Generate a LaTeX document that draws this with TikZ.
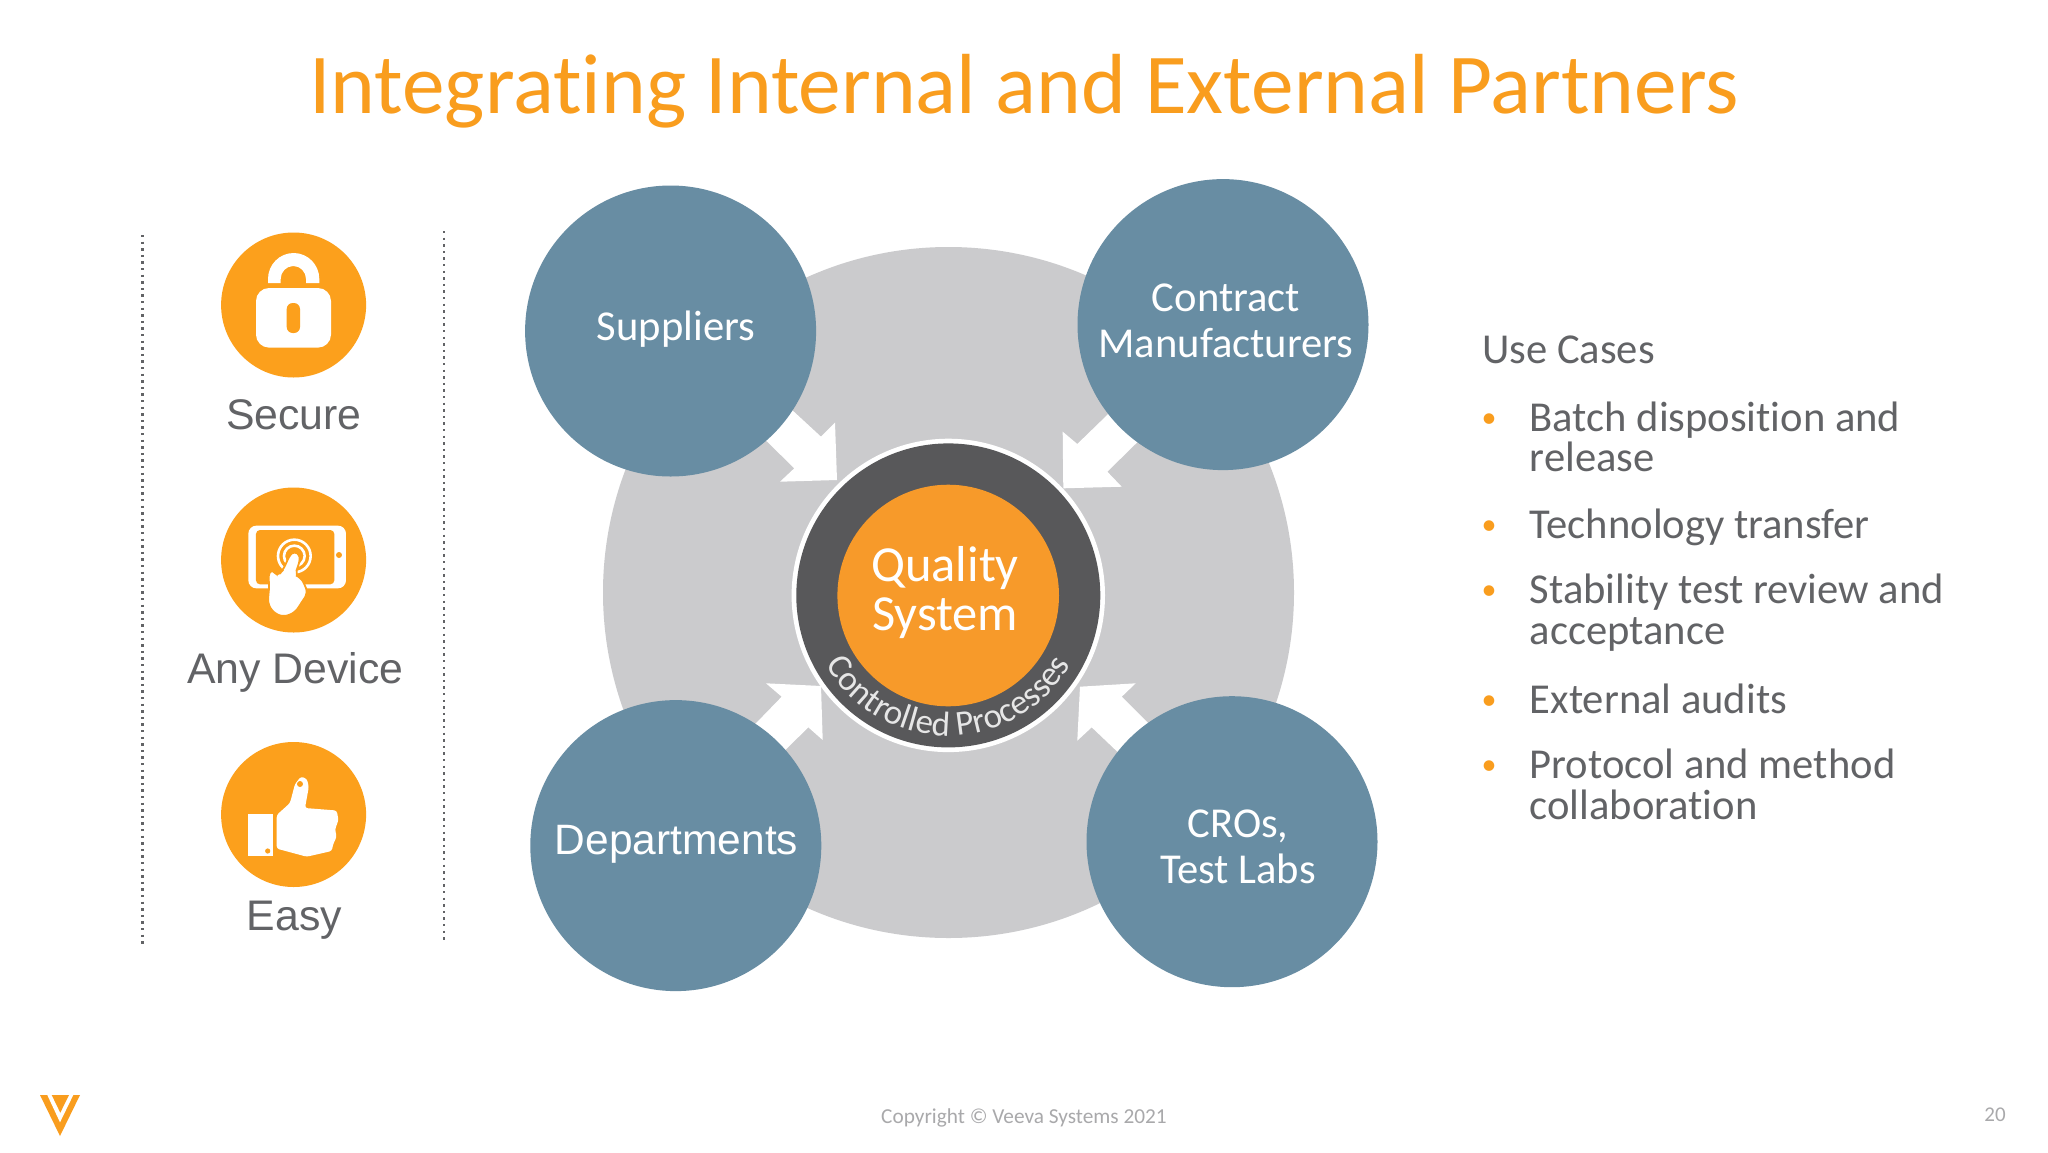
\documentclass[tikz,border=0pt]{standalone}
\usepackage{fontspec}
\usetikzlibrary{decorations.text}
\setmainfont{Carlito}[Ligatures=NoCommon]
\newfontfamily\arialf{Liberation Sans}
\definecolor{vorange}{HTML}{F99D1E}
\definecolor{iconorange}{HTML}{FCA01C}
\definecolor{coreorange}{HTML}{F79A2A}
\definecolor{vblue}{HTML}{688DA3}
\definecolor{vgray}{HTML}{CBCBCD}
\definecolor{vdark}{HTML}{58585A}
\definecolor{vtext}{HTML}{626366}
\definecolor{vfoot}{HTML}{A9A9AB}
\tikzset{
  disc/.style={circle,inner sep=0pt,minimum size=#1},
  partner/.style={disc=291pt,fill=vblue},
  badge/.style={disc=145pt,fill=iconorange},
  partnertext/.style={text=white,align=center,font=\fontsize{42.6}{46}\selectfont},
  badgetext/.style={text=vtext,font=\arialf\fontsize{42.8}{48}\selectfont},
  usecase/.style={anchor=base west,text=vtext,font=\fontsize{42.6}{40}\selectfont,inner sep=0pt},
  bulletmark/.style={anchor=base,text=vorange,font=\fontsize{30}{30}\selectfont,inner sep=0pt},
  sideline/.style={vtext,line width=2.4pt,dash pattern=on 2.4pt off 4.2pt},
  blockarrow/.style={fill=white,draw=none}
}
\begin{document}
\begin{tikzpicture}[x=1pt,y=-1pt]
\useasboundingbox (0,0) rectangle (2048,1152);
\fill[white] (0,0) rectangle (2048,1152);

% title
\node[text=vorange,font=\fontsize{85.3}{90}\selectfont,inner sep=0pt] (title) at (1024,91) {Integrating Internal and External Partners};

% dotted lines
\coordinate (la) at (142.4,235); \coordinate (lb) at (142.4,945);
\coordinate (ra) at (444,231);   \coordinate (rb) at (444,942);
\draw[sideline] (la) -- (lb);
\draw[sideline] (ra) -- (rb);

% left badges
\node[badge] (secure) at (293.6,305) {};
\node[badge] (device) at (293.6,560) {};
\node[badge] (easy)   at (293.6,814.5) {};
\node[badgetext] (securet) at (294,415) {Secure};
\node[badgetext] (devicet) at (295.5,672.5) {Any Device};
\node[badgetext] (easyt)   at (294.5,920.5) {Easy};

% lock icon
\fill[white,rounded corners=13pt] (256,288) rectangle (331,347.6);
\fill[iconorange,rounded corners=6pt] (286.7,303) rectangle (300,333);
\fill[white] (268,283) -- (268,279) arc[start angle=180,end angle=360,x radius=25.65,y radius=26] -- (319.3,283) -- (306,283) -- (306,279)
  arc[start angle=360,end angle=180,x radius=12.65,y radius=13] -- (280.7,283) -- cycle;

% device icon
\begin{scope}[shift={(205,470)},x=0.3333pt,y=-0.3333pt]
  \fill[white,rounded corners=8pt] (130,167) rectangle (423,355);
  \fill[iconorange,rounded corners=4pt] (153,180) rectangle (388,343);
  \fill[iconorange] (402,255) circle[radius=9];
  \draw[white,line width=2.6pt] (268,258) circle[radius=49];
  \draw[white,line width=2.6pt] (268,258) circle[radius=31];
  \fill[white,draw=iconorange,line width=1.8pt,rounded corners=5pt]
    (256,252) -- (268,243) -- (283,252) -- (286,268) -- (270,315) -- (287,322) -- (300,345) -- (308,370) -- (270,428)
    -- (235,441) -- (205,428) -- (188,400) -- (193,345) -- (189,312) -- (203,296) -- (216,320) -- (234,300) -- cycle;
\end{scope}

% thumbs-up icon
\fill[white] (248.3,814) rectangle (273.3,855.7);
\fill[iconorange] (267.7,851) circle[radius=2.6];
\fill[white,rounded corners=2.5pt] (276.7,815) -- (290,803) -- (295,784) -- (301,776.5) -- (307,779) -- (308.8,787) -- (305,808)
  -- (336.7,810.5) -- (338.5,820) -- (335,829.5) -- (336.7,836.7) -- (333.3,843.8) -- (331.7,851) -- (306.7,856.7) -- (276.7,848.6) -- cycle;
\fill[iconorange] (300,784) circle[radius=3];

% big grey disc
\node[disc=691pt,fill=vgray] (field) at (948.5,592.5) {};

% block arrows (tails run under the partner discs)
\fill[blockarrow] (837,480) -- (835,422.7) -- (821,436.7) -- (765,385) -- (740,415) -- (794.3,468.3) -- (780,481.7) -- cycle;
\fill[blockarrow] (1063.3,488.3) -- (1062.7,431.7) -- (1077.3,444) -- (1135,388) -- (1165,415) -- (1107.3,471.7) -- (1121.7,486.7) -- cycle;
\fill[blockarrow] (821,686) -- (766,683.3) -- (781.7,696.7) -- (730,750) -- (760,775) -- (808.3,727.3) -- (822.7,740) -- cycle;
\fill[blockarrow] (1080,686.7) -- (1135.7,683.3) -- (1121.7,696.7) -- (1175,750) -- (1145,778) -- (1091.7,727.3) -- (1077.3,740.7) -- cycle;

% partner discs
\node[partner] (sup) at (670.6,331) {};
\node[partner] (con) at (1223,324.6) {};
\node[partner] (dep) at (675.8,845.6) {};
\node[partner] (cro) at (1232,841.7) {};
\node[partnertext] (supt) at (676,329.5) {Suppliers};
\node[partnertext] (cont) at (1226,320.5) {Contract\\[0pt]Manufacturers};
\node[partnertext,font=\arialf\fontsize{42.5}{48}\selectfont] (dept) at (676.5,844) {Departments};
\node[partnertext] (crot) at (1238,847) {CROs,\\[0pt]Test Labs};

% centre
\node[disc=313.4pt,fill=white] (ring) at (948.3,595.4) {};
\node[disc=304pt,fill=vdark] (ringd) at (948.3,595.4) {};
\node[disc=221.6pt,fill=coreorange] (core) at (948.2,595.5) {};
\node[text=white,align=center,font=\fontsize{50.5}{49}\selectfont,inner sep=0pt] (coret) at (945,593) {Quality\\System};
\path[postaction={decorate,decoration={text along path,text align=center,
   text={|\fontsize{35}{35}\selectfont\color{white!85!vdark}|Controlled Processes}}}]
  (948.3,595.4) ++(155:140.5) arc[start angle=155,end angle=25,radius=140.5];

% use cases
\node[usecase] (uc) at (1482,363) {Use Cases};
\foreach \n/\yy/\tt in {u1/431/Batch disposition and,u2/471/release,u3/538/Technology transfer,u4/603.5/Stability test review and,u5/644/acceptance,u6/713/External audits,u7/778.5/Protocol and method,u8/819/collaboration}{
  \node[usecase] (\n) at (1529.5,\yy) {\tt};
}
\foreach \n/\yy in {b1/431,b3/538,b4/603,b6/713,b7/778}{
  \node[bulletmark] (\n) at (1489,\yy-4) {•};
}

% footer
\node[text=vfoot,font=\fontsize{21.3}{24}\selectfont,inner sep=0pt] (copy) at (1024,1118) {Copyright © Veeva Systems 2021};
\node[text=vfoot,font=\fontsize{21}{24}\selectfont,inner sep=0pt] (pg) at (1995,1115) {20};

% logo
\fill[vorange] (40,1095) -- (80,1095) -- (60,1136) -- cycle;
\fill[white] (47.3,1095) -- (73.3,1095) -- (60,1122.3) -- cycle;
\fill[vorange] (51.7,1095) -- (69,1095) -- (60.3,1112.7) -- cycle;
\end{tikzpicture}
\end{document}
